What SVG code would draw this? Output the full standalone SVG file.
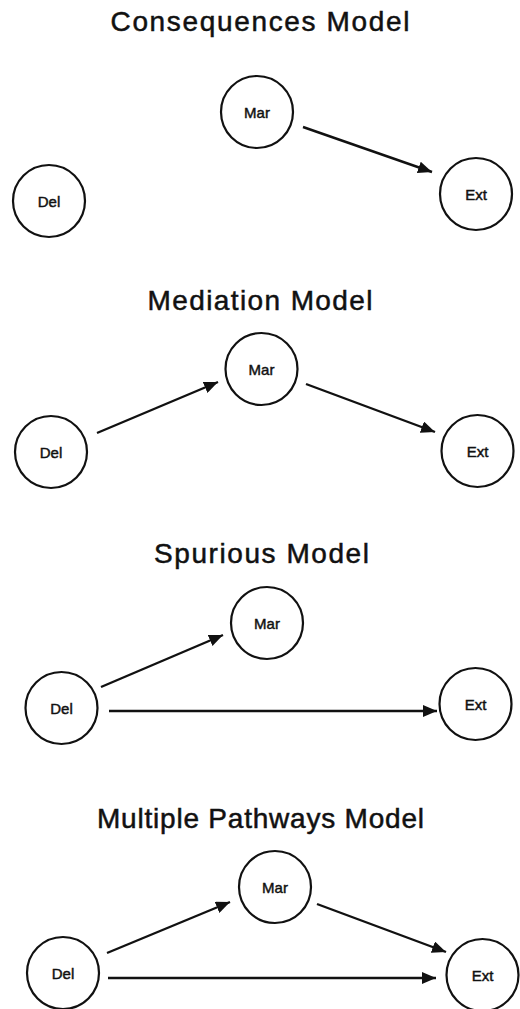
<svg xmlns="http://www.w3.org/2000/svg" width="520" height="1009" viewBox="0 0 520 1009">
<style>
.title{font-family:"Liberation Sans",Arial,sans-serif;font-size:28px;fill:#111;stroke:#111;stroke-width:0.5;text-anchor:middle}
.node circle{fill:#fff;stroke:#111;stroke-width:2.2}
.node text{font-family:"Liberation Sans",Arial,sans-serif;font-size:15px;fill:#111;stroke:#111;stroke-width:0.45;text-anchor:middle;dominant-baseline:central}
.edges line{stroke:#111;stroke-width:2.4;marker-end:url(#ah)}
</style>
<defs>
<marker id="ah" markerUnits="userSpaceOnUse" markerWidth="15" markerHeight="12" refX="14" refY="6" orient="auto">
<path d="M0,0 L14,6 L0,12 z" fill="#111"/>
</marker>
</defs>
<rect width="520" height="1009" fill="#fff"/>
<g id="titles">
<text class="title" x="260" y="31" textLength="299" lengthAdjust="spacing">Consequences Model</text>
<text class="title" x="260" y="310" textLength="225" lengthAdjust="spacing">Mediation Model</text>
<text class="title" x="261.5" y="563" textLength="215" lengthAdjust="spacing">Spurious Model</text>
<text class="title" x="260.5" y="828" textLength="327" lengthAdjust="spacing">Multiple Pathways Model</text>
</g>
<g class="edges" id="connectors">
<line x1="303" y1="127" x2="432" y2="172"/>
<line x1="97" y1="433" x2="218" y2="382"/>
<line x1="306" y1="384" x2="435" y2="432"/>
<line x1="101" y1="687" x2="223" y2="635"/>
<line x1="109" y1="711" x2="437" y2="711"/>
<line x1="107" y1="953" x2="230" y2="902"/>
<line x1="317" y1="904" x2="446" y2="952"/>
<line x1="108" y1="978" x2="436" y2="978"/>
</g>
<g id="m1-del" class="node"><circle cx="49" cy="201" r="36"/><text x="49" y="201">Del</text></g>
<g id="m1-mar" class="node"><circle cx="257" cy="112" r="36"/><text x="257" y="112">Mar</text></g>
<g id="m1-ext" class="node"><circle cx="476" cy="194" r="36"/><text x="476" y="194">Ext</text></g>
<g id="m2-del" class="node"><circle cx="51" cy="452" r="36"/><text x="51" y="452">Del</text></g>
<g id="m2-mar" class="node"><circle cx="261.5" cy="369" r="36"/><text x="261.5" y="369">Mar</text></g>
<g id="m2-ext" class="node"><circle cx="477.5" cy="451" r="36"/><text x="477.5" y="451">Ext</text></g>
<g id="m3-del" class="node"><circle cx="61.5" cy="708" r="36"/><text x="61.5" y="708">Del</text></g>
<g id="m3-mar" class="node"><circle cx="267" cy="623" r="36"/><text x="267" y="623">Mar</text></g>
<g id="m3-ext" class="node"><circle cx="475.5" cy="704" r="36"/><text x="475.5" y="704">Ext</text></g>
<g id="m4-del" class="node"><circle cx="63" cy="973" r="36"/><text x="63" y="973">Del</text></g>
<g id="m4-mar" class="node"><circle cx="275" cy="887" r="36"/><text x="275" y="887">Mar</text></g>
<g id="m4-ext" class="node"><circle cx="482.5" cy="975" r="36"/><text x="482.5" y="975">Ext</text></g>
</svg>
